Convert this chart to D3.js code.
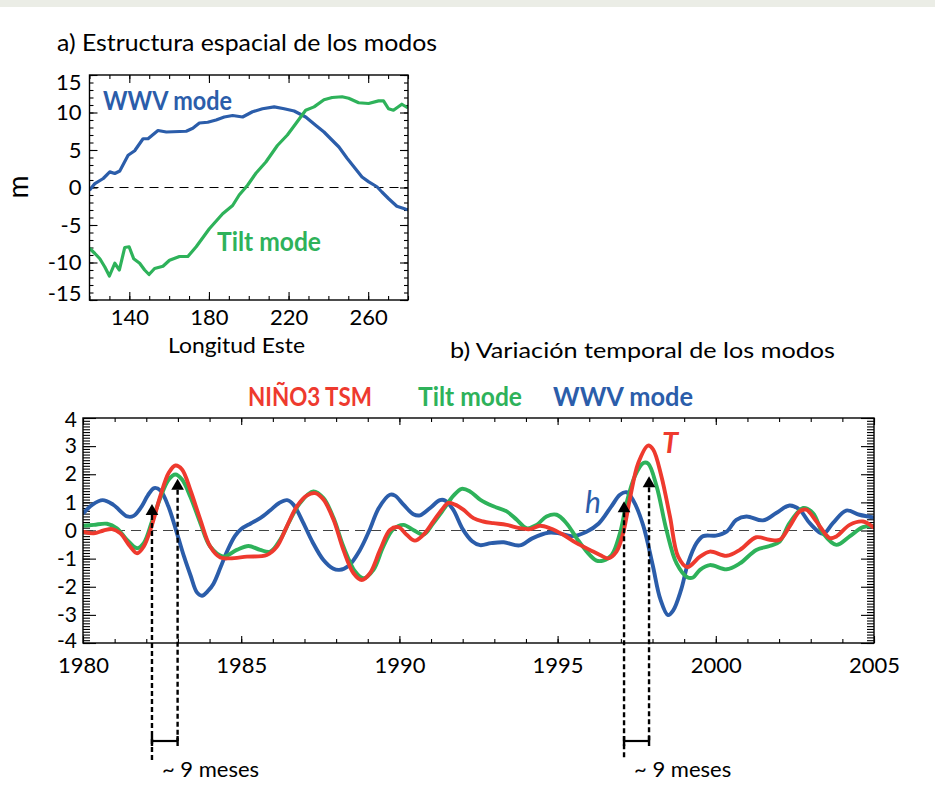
<!DOCTYPE html>
<html><head><meta charset="utf-8">
<script src="https://cdn.jsdelivr.net/npm/d3@7"></script>
<style>body{margin:0;background:#fff} svg{display:block} text{font-family:Lato,"Noto Sans",sans-serif}</style>
</head><body>
<svg id="c" width="935" height="802"></svg>
<script>
// ---------- Panel a: spatial structure ----------
const wwvSpatial = [[120,-0.36],[122.7,0.53],[126.9,1.2],[130.2,2.08],[132.7,1.87],[135.2,2.2],[139.4,4.3],[142.7,4.9],[146.9,6.5],[149.4,6.5],[154.4,7.6],[158.6,7.4],[168.6,7.5],[171.9,7.9],[175.2,8.6],[179.4,8.7],[183.6,9.0],[187.7,9.4],[191.9,9.6],[196.9,9.4],[201.9,10.1],[206.9,10.5],[212.8,10.75],[217.8,10.5],[222.8,10.2],[228.6,9.4],[233.6,8.3],[237.8,7.4],[241.9,6.3],[245.3,5.4],[249.4,3.9],[253.6,2.5],[256.9,1.4],[260.3,0.75],[264.4,0.1],[266.9,-0.6],[270.3,-1.5],[274.4,-2.5],[279,-2.9],[280,-2.95]];
const tiltSpatial = [[120,-8.1],[122.7,-8.8],[125.2,-9.5],[127.7,-10.6],[130,-11.8],[132.7,-10.1],[135,-11],[137.7,-8.0],[139.9,-7.9],[142.2,-9.5],[145.2,-10.1],[147.7,-11],[149.9,-11.6],[152.7,-10.8],[156.9,-10.5],[160.2,-9.7],[165.2,-9.2],[169.4,-9.2],[173.6,-7.9],[180.2,-5.5],[186.9,-3.5],[191.9,-2.4],[195.2,-1.0],[199.4,0.3],[203.6,1.9],[208.6,3.4],[214.4,5.6],[219.4,7.0],[223.6,8.5],[228.6,10.3],[232.8,10.75],[237.8,11.7],[241.9,12.0],[246.9,12.1],[250.2,11.9],[255.2,11.3],[260.2,11.2],[265.2,11.55],[267.7,11.55],[270.2,10.5],[272.7,10.3],[276.9,11.1],[280,10.6]];
const lonTickLabels = [140,180,220,260];
const lonMinorTicks = d3.range(120,281,10);
const mTickLabels = [-15,-10,-5,0,5,10,15];
const mMinorTicks = d3.range(-15,16,1);

// ---------- Panel b: temporal variation ----------
const wwvTemporal = [[1980.0,0.6],[1980.3,0.92],[1980.62,1.08],[1980.95,0.92],[1981.4,0.5],[1981.6,0.52],[1981.85,0.85],[1982.05,1.25],[1982.25,1.51],[1982.45,1.42],[1982.7,0.85],[1982.97,-0.1],[1983.2,-0.95],[1983.4,-1.6],[1983.6,-2.2],[1983.76,-2.32],[1983.95,-2.15],[1984.12,-1.9],[1984.35,-1.3],[1984.55,-0.75],[1984.8,-0.2],[1985.0,0.05],[1985.3,0.25],[1985.6,0.44],[1985.92,0.72],[1986.2,0.98],[1986.45,1.08],[1986.65,0.92],[1986.95,0.3],[1987.25,-0.4],[1987.6,-1.05],[1987.9,-1.35],[1988.1,-1.4],[1988.4,-1.25],[1988.75,-0.7],[1989.05,0.0],[1989.35,0.8],[1989.7,1.27],[1989.86,1.24],[1990.13,0.92],[1990.44,0.58],[1990.65,0.54],[1990.97,0.8],[1991.28,1.08],[1991.44,1.07],[1991.7,0.74],[1992.0,0.05],[1992.3,-0.38],[1992.55,-0.52],[1992.9,-0.45],[1993.3,-0.42],[1993.8,-0.53],[1994.2,-0.28],[1994.7,-0.08],[1995.05,-0.1],[1995.45,-0.2],[1995.9,-0.05],[1996.3,0.25],[1996.7,0.86],[1996.97,1.27],[1997.18,1.36],[1997.4,1.05],[1997.7,0.2],[1998.0,-1.2],[1998.25,-2.45],[1998.49,-3.01],[1998.65,-2.85],[1998.9,-2.12],[1999.12,-1.17],[1999.39,-0.45],[1999.6,-0.2],[2000.0,-0.18],[2000.34,-0.04],[2000.65,0.38],[2000.97,0.5],[2001.49,0.36],[2001.91,0.62],[2002.33,0.89],[2002.65,0.74],[2002.97,0.26],[2003.39,-0.12],[2003.7,0.26],[2004.12,0.71],[2004.54,0.56],[2005.0,0.46]];
const ninoTemporal = [[1980.0,-0.04],[1980.34,-0.1],[1980.65,0.0],[1980.92,0.05],[1981.18,-0.1],[1981.49,-0.57],[1981.71,-0.81],[1981.92,-0.57],[1982.18,0.2],[1982.44,1.21],[1982.71,2.05],[1982.92,2.31],[1983.13,2.17],[1983.39,1.45],[1983.71,0.38],[1984.02,-0.57],[1984.34,-0.96],[1984.65,-0.99],[1985.18,-0.93],[1985.81,-0.87],[1986.13,-0.57],[1986.44,0.14],[1986.76,0.86],[1987.07,1.24],[1987.34,1.33],[1987.6,1.1],[1987.92,0.38],[1988.23,-0.69],[1988.55,-1.52],[1988.81,-1.76],[1989.07,-1.52],[1989.39,-0.69],[1989.7,0.02],[1989.97,0.12],[1990.23,-0.15],[1990.49,-0.36],[1990.76,-0.15],[1991.07,0.32],[1991.34,0.74],[1991.55,0.98],[1991.76,0.92],[1992.02,0.74],[1992.34,0.44],[1992.65,0.32],[1992.97,0.26],[1993.39,0.2],[1993.81,0.08],[1994.13,0.05],[1994.44,0.17],[1994.76,0.08],[1995.18,-0.15],[1995.6,-0.45],[1996.02,-0.69],[1996.34,-0.87],[1996.6,-0.99],[1996.86,-0.75],[1997.07,-0.1],[1997.28,1.1],[1997.55,2.4],[1997.86,3.02],[1998.02,2.88],[1998.28,1.93],[1998.55,0.5],[1998.81,-0.93],[1999.1,-1.3],[1999.5,-0.93],[1999.81,-0.75],[2000.34,-0.9],[2000.76,-0.69],[2001.28,-0.24],[2001.7,-0.33],[2002.02,-0.33],[2002.33,0.14],[2002.65,0.68],[2002.86,0.74],[2003.18,0.32],[2003.6,-0.27],[2003.81,-0.21],[2004.23,0.2],[2004.65,0.32],[2005.0,0.1]];
const tiltTemporal = [[1980.0,0.17],[1980.34,0.2],[1980.76,0.24],[1981.07,0.08],[1981.39,-0.33],[1981.71,-0.63],[1981.92,-0.45],[1982.18,0.32],[1982.44,1.15],[1982.71,1.81],[1982.92,1.99],[1983.13,1.81],[1983.39,1.21],[1983.71,0.26],[1984.02,-0.57],[1984.44,-0.93],[1984.86,-0.69],[1985.23,-0.55],[1985.6,-0.69],[1985.92,-0.75],[1986.23,-0.33],[1986.55,0.38],[1986.86,0.98],[1987.28,1.39],[1987.6,1.15],[1987.92,0.44],[1988.23,-0.57],[1988.6,-1.46],[1988.86,-1.7],[1989.18,-1.4],[1989.49,-0.57],[1989.81,0.05],[1990.13,0.2],[1990.44,0.02],[1990.76,-0.15],[1991.07,0.26],[1991.39,0.74],[1991.71,1.24],[1991.97,1.48],[1992.23,1.39],[1992.55,1.1],[1992.97,0.86],[1993.39,0.68],[1993.71,0.38],[1994.02,0.08],[1994.34,0.2],[1994.65,0.5],[1994.97,0.56],[1995.28,0.26],[1995.6,-0.27],[1995.92,-0.75],[1996.23,-1.07],[1996.44,-1.07],[1996.71,-0.87],[1996.97,-0.1],[1997.18,0.98],[1997.44,1.93],[1997.71,2.4],[1997.86,2.38],[1998.13,1.57],[1998.44,0.02],[1998.76,-1.17],[1999.1,-1.66],[1999.28,-1.67],[1999.5,-1.4],[1999.81,-1.23],[2000.34,-1.38],[2000.76,-1.17],[2001.28,-0.69],[2001.7,-0.55],[2002.02,-0.39],[2002.33,0.26],[2002.76,0.8],[2003.07,0.62],[2003.39,-0.1],[2003.81,-0.51],[2004.23,-0.21],[2004.65,0.12],[2005.0,0.16]];
const yearTickLabels = [1980,1985,1990,1995,2000,2005];
const yearMinorTicks = d3.range(1980,2006,1);
const anomTickLabels = [-4,-3,-2,-1,0,1,2,3,4];
const anomMinorTicks = d3.range(-40,41).map(i=>i/10);
// arrows: h peak (left) and T peak (right) for the two events
const arrowYears = [1982.18,1982.99,1997.1,1997.89];
const arrowValues = [0.94,1.84,1.04,1.93];
const lagLabel = "~ 9 meses";

const BLUE="#2b5daa", GREEN="#2eb25a", RED="#ee3a2e";
const FONT = "Lato, 'Noto Sans', sans-serif";
const svg = d3.select("#c");
svg.append("rect").attr("x",0).attr("y",0).attr("width",935).attr("height",7).attr("fill","#ebede6");

function addAxis(axisFn, scale, vals, size, transform, labels, pad, edgeShift, fs){
  const ax = axisFn(scale).tickValues(vals).tickSizeInner(size).tickSizeOuter(0).tickPadding(pad);
  ax.tickFormat(labels ? (d=>String(d)) : "");
  const g = svg.append("g").attr("transform", transform).call(ax);
  g.select(".domain").remove();
  g.selectAll("line").attr("stroke","#000").attr("stroke-width",1.1);
  const t = g.selectAll("text").attr("fill","#000").attr("font-size",fs||22).style("font-family",FONT);
  if (edgeShift) {
    const lo = d3.min(vals), hi = d3.max(vals);
    t.attr("y", d => d===hi ? edgeShift : (d===lo ? -edgeShift : 0));
  }
  return g;
}

// ---- Panel a ----
const ax0=89.5, ax1=408, ay0=75, ay1=300;
const xa = d3.scaleLinear([120,280],[ax0,ax1]);
const ya = d3.scaleLinear([-15,15],[ay1,ay0]);
const defs = svg.append("defs");
defs.append("clipPath").attr("id","clipA").append("rect").attr("x",ax0).attr("y",ay0).attr("width",ax1-ax0).attr("height",ay1-ay0);
defs.append("clipPath").attr("id","clipB").append("rect").attr("x",83).attr("y",418).attr("width",791).attr("height",225);

addAxis(d3.axisBottom, xa, lonMinorTicks, -4, `translate(0,${ay1})`, false, 0);
addAxis(d3.axisBottom, xa, lonTickLabels, -8, `translate(0,${ay1})`, true, 9);
addAxis(d3.axisTop, xa, lonMinorTicks, -4, `translate(0,${ay0})`, false, 0);
addAxis(d3.axisTop, xa, lonTickLabels, -8, `translate(0,${ay0})`, false, 0);
addAxis(d3.axisLeft, ya, mMinorTicks, -4, `translate(${ax0},0)`, false, 0);
addAxis(d3.axisLeft, ya, mTickLabels, -8, `translate(${ax0},0)`, true, 8, 7);
addAxis(d3.axisRight, ya, mMinorTicks, -4, `translate(${ax1},0)`, false, 0);
addAxis(d3.axisRight, ya, mTickLabels, -8, `translate(${ax1},0)`, false, 0);

svg.append("line").attr("x1",ax0).attr("x2",ax1).attr("y1",ya(0)).attr("y2",ya(0))
  .attr("stroke","#000").attr("stroke-width",1.1).attr("stroke-dasharray","9,6");
const lineA = d3.line().x(d=>xa(d[0])).y(d=>ya(d[1]));
const gA = svg.append("g").attr("clip-path","url(#clipA)");
gA.append("path").datum(wwvSpatial).attr("d",lineA).attr("fill","none").attr("stroke",BLUE).attr("stroke-width",3.2).attr("stroke-linejoin","round");
gA.append("path").datum(tiltSpatial).attr("d",lineA).attr("fill","none").attr("stroke",GREEN).attr("stroke-width",3.2).attr("stroke-linejoin","round");
svg.append("rect").attr("x",ax0).attr("y",ay0).attr("width",ax1-ax0).attr("height",ay1-ay0).attr("fill","none").attr("stroke","#000").attr("stroke-width",1.4);

svg.append("text").attr("x",57).attr("y",51).attr("font-size",23).attr("textLength",380).attr("lengthAdjust","spacingAndGlyphs").text("a) Estructura espacial de los modos");
svg.append("text").attr("x",103).attr("y",110).attr("font-size",26).attr("font-weight","bold").attr("fill",BLUE).attr("textLength",129).attr("lengthAdjust","spacingAndGlyphs").text("WWV mode");
svg.append("text").attr("x",217).attr("y",251).attr("font-size",26).attr("font-weight","bold").attr("fill",GREEN).attr("textLength",104).attr("lengthAdjust","spacingAndGlyphs").text("Tilt mode");
svg.append("text").attr("transform","translate(28,187) rotate(-90)").attr("text-anchor","middle").attr("font-size",28).text("m");
svg.append("text").attr("x",168).attr("y",353).attr("font-size",22).attr("textLength",137).attr("lengthAdjust","spacingAndGlyphs").text("Longitud Este");

// ---- Panel b ----
const bx0=83, bx1=874, by0=418, by1=643;
const xb = d3.scaleLinear([1980,2005],[bx0,bx1]);
const yb = d3.scaleLinear([-4,4],[by1,by0]);

addAxis(d3.axisBottom, xb, yearMinorTicks, -4, `translate(0,${by1})`, false, 0);
addAxis(d3.axisBottom, xb, yearTickLabels, -7, `translate(0,${by1})`, true, 14);
addAxis(d3.axisTop, xb, yearMinorTicks, -4, `translate(0,${by0})`, false, 0);
addAxis(d3.axisTop, xb, yearTickLabels, -7, `translate(0,${by0})`, false, 0);
addAxis(d3.axisLeft, yb, anomMinorTicks, -7, `translate(${bx0},0)`, false, 0);
addAxis(d3.axisLeft, yb, anomTickLabels, -13, `translate(${bx0},0)`, true, 6, 2, 21);
addAxis(d3.axisRight, yb, anomMinorTicks, -7, `translate(${bx1},0)`, false, 0);
addAxis(d3.axisRight, yb, anomTickLabels, -13, `translate(${bx1},0)`, false, 0);

svg.append("line").attr("x1",bx0).attr("x2",bx1).attr("y1",yb(0)).attr("y2",yb(0))
  .attr("stroke","#444").attr("stroke-width",1.1).attr("stroke-dasharray","10,6");
const lineB = d3.line().x(d=>xb(d[0])).y(d=>yb(d[1])).curve(d3.curveCatmullRom.alpha(0.5));
const gB = svg.append("g").attr("clip-path","url(#clipB)");
gB.append("path").datum(wwvTemporal).attr("d",lineB).attr("fill","none").attr("stroke",BLUE).attr("stroke-width",3.9);
gB.append("path").datum(tiltTemporal).attr("d",lineB).attr("fill","none").attr("stroke",GREEN).attr("stroke-width",3.9);
gB.append("path").datum(ninoTemporal).attr("d",lineB).attr("fill","none").attr("stroke",RED).attr("stroke-width",3.9);
svg.append("rect").attr("x",bx0).attr("y",by0).attr("width",bx1-bx0).attr("height",by1-by0).attr("fill","none").attr("stroke","#000").attr("stroke-width",1.4);

// arrows & dashed lines
const triArea = 70;
const tri = d3.symbol(d3.symbolTriangle, triArea);
const triH = Math.sqrt(triArea*4/Math.sqrt(3))*Math.sqrt(3)/2;
arrowYears.forEach((yr,i)=>{
  const x = xb(yr), ytip = yb(arrowValues[i]);
  const yEnd = (i%2===0) ? 760 : 741;
  svg.append("line").attr("x1",x).attr("x2",x).attr("y1",ytip+triH).attr("y2",yEnd)
    .attr("stroke","#000").attr("stroke-width",2.4).attr("stroke-dasharray","5,3");
  svg.append("path").attr("d",tri()).attr("transform",`translate(${x},${ytip + triH*2/3})`).attr("fill","#000");
});
[0,2].forEach(i=>{
  const xl = xb(arrowYears[i]), xr = xb(arrowYears[i+1]);
  svg.append("line").attr("x1",xl).attr("x2",xr).attr("y1",741).attr("y2",741).attr("stroke","#000").attr("stroke-width",2.2);
  [xl,xr].forEach(x=>svg.append("line").attr("x1",x).attr("x2",x).attr("y1",736).attr("y2",746).attr("stroke","#000").attr("stroke-width",2.4));
  svg.append("text").attr("x",xl+10).attr("y",777).attr("font-size",22).text(lagLabel);
});

svg.append("text").attr("x",450).attr("y",358).attr("font-size",22).attr("textLength",385).attr("lengthAdjust","spacingAndGlyphs").text("b) Variación temporal de los modos");
svg.append("text").attr("x",248).attr("y",406).attr("font-size",26).attr("font-weight","bold").attr("fill",RED).attr("textLength",124).attr("lengthAdjust","spacingAndGlyphs").text("NIÑO3 TSM");
svg.append("text").attr("x",418).attr("y",406).attr("font-size",26).attr("font-weight","bold").attr("fill",GREEN).attr("textLength",104).attr("lengthAdjust","spacingAndGlyphs").text("Tilt mode");
svg.append("text").attr("x",553).attr("y",406).attr("font-size",26).attr("font-weight","bold").attr("fill",BLUE).attr("textLength",140).attr("lengthAdjust","spacingAndGlyphs").text("WWV mode");
svg.append("text").attr("x",585).attr("y",513).attr("font-size",30).attr("font-style","italic").attr("fill",BLUE).text("h");
svg.append("text").attr("x",662).attr("y",453).attr("font-size",29).attr("font-style","italic").attr("font-weight","bold").attr("fill",RED).text("T");
</script>
</body></html>
